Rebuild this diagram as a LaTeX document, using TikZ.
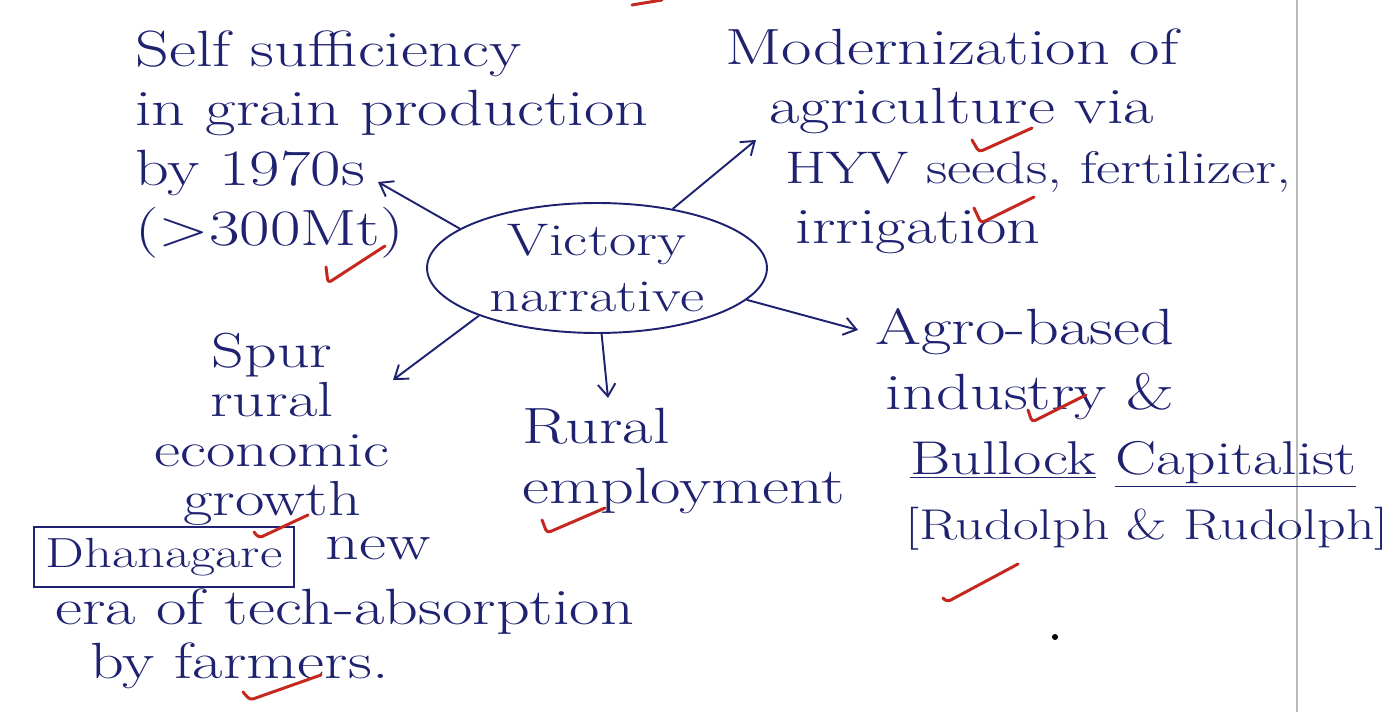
\documentclass[tikz,border=0pt]{standalone}
\usepackage{fontspec}
\setmainfont{Latin Modern Roman}[FakeStretch=1.3]
\usetikzlibrary{calc,shapes.geometric,arrows.meta}

\definecolor{ink}{RGB}{30,34,112}
\definecolor{redpen}{RGB}{196,40,30}
\tikzset{
  txt/.style={ink,inner sep=0pt,align=left,font=\fontsize{29}{34}\selectfont},
  arr/.style={ink,line width=1.1pt,-{Straight Barb[length=7pt,width=10pt]}},
  tick/.style={redpen,line width=1.7pt,line cap=round,line join=round,rounded corners=2pt},
}
\newcommand{\redcheck}[3]{\draw[tick] (#1) -- (#2) -- (#3);}

\begin{document}
\begin{tikzpicture}[x=0.02cm,y=-0.02cm]
    \useasboundingbox (0,0) rectangle (1387,712);
    \draw[gray!55,line width=0.8pt] (1297,0) -- (1297,712); % margin line

    \node (narr) [ellipse,draw,ink,line width=1.1pt,inner sep=0pt,minimum width=6.8cm,minimum height=2.6cm,
      align=center,font=\fontsize{26}{32}\selectfont] at (597,268) {Victory\\narrative};

    \node (self) [txt,anchor=north west] at (135,30)
      {Self sufficiency\\in grain production\\by 1970s\\(>300Mt)};
    \node (moder) [txt,anchor=north west] at (725,28)
      {Modernization of\\\hspace*{25pt}agriculture via\\
       \hspace*{34pt}{\fontsize{26}{34}\selectfont HYV seeds, fertilizer,}\\\hspace*{40pt}irrigation};
    \node (agro) [txt,anchor=north west,font=\fontsize{29}{37}\selectfont] at (875,308)
      {Agro-based\\\hspace*{6pt}industry \&\\
       \hspace*{20pt}{\fontsize{27}{37}\selectfont\underline{Bullock} \underline{Capitalist}}\\
       \hspace*{17pt}{\fontsize{24.5}{37}\selectfont[Rudolph \& Rudolph]}};
    \node (rural) [txt,anchor=north west] at (522,408) {Rural\\employment};
    \node (spur) [txt,anchor=north,align=center,font=\fontsize{28}{28}\selectfont] at (272,333)
      {Spur\\rural\\economic\\growth};
    \node (dhan) [txt,draw,line width=1.1pt,minimum width=5.2cm,minimum height=1.2cm,
      font=\fontsize{24}{28}\selectfont] at (164,557) {Dhanagare};
    \node (newword) [txt,anchor=base west] at ($(dhan.base east)+(30,-8)$) {new};
    \node (era) [txt,anchor=north west,font=\fontsize{29}{31}\selectfont] at (55,588)
      {era of tech-absorption\\\hspace*{20pt}by farmers.};

    \coordinate (selftip) at (378,182);
    \coordinate (modertip) at (756,140);
    \coordinate (agrotip) at (858,330);
    \coordinate (ruraltip) at (608,398);
    \coordinate (spurtip) at (393,380);

    \draw[arr] (narr.164) -- (selftip);
    \draw[arr] (narr.38) -- (modertip);
    \draw[arr] (narr.-12) -- (agrotip);
    \draw[arr] (narr.-86) -- (ruraltip);
    \draw[arr] (narr.-158) -- (spurtip);

    % red ticks
    \redcheck{326,267}{328,283}{385,246}
    \redcheck{972,140}{979,152}{1032,128}
    \redcheck{974,208}{981,223}{1034,197}
    \redcheck{1028,410}{1032,422}{1086,395}
    \redcheck{943,598}{947,602}{1018,564}
    \redcheck{254,532}{259,538}{308,515}
    \redcheck{542,520}{547,533}{605,508}
    \redcheck{243,692}{250,700}{321,675}
    \draw[tick] (632,5) -- (662,0);

    \fill[black] (1055,637) circle[radius=3];
\end{tikzpicture}
\end{document}
